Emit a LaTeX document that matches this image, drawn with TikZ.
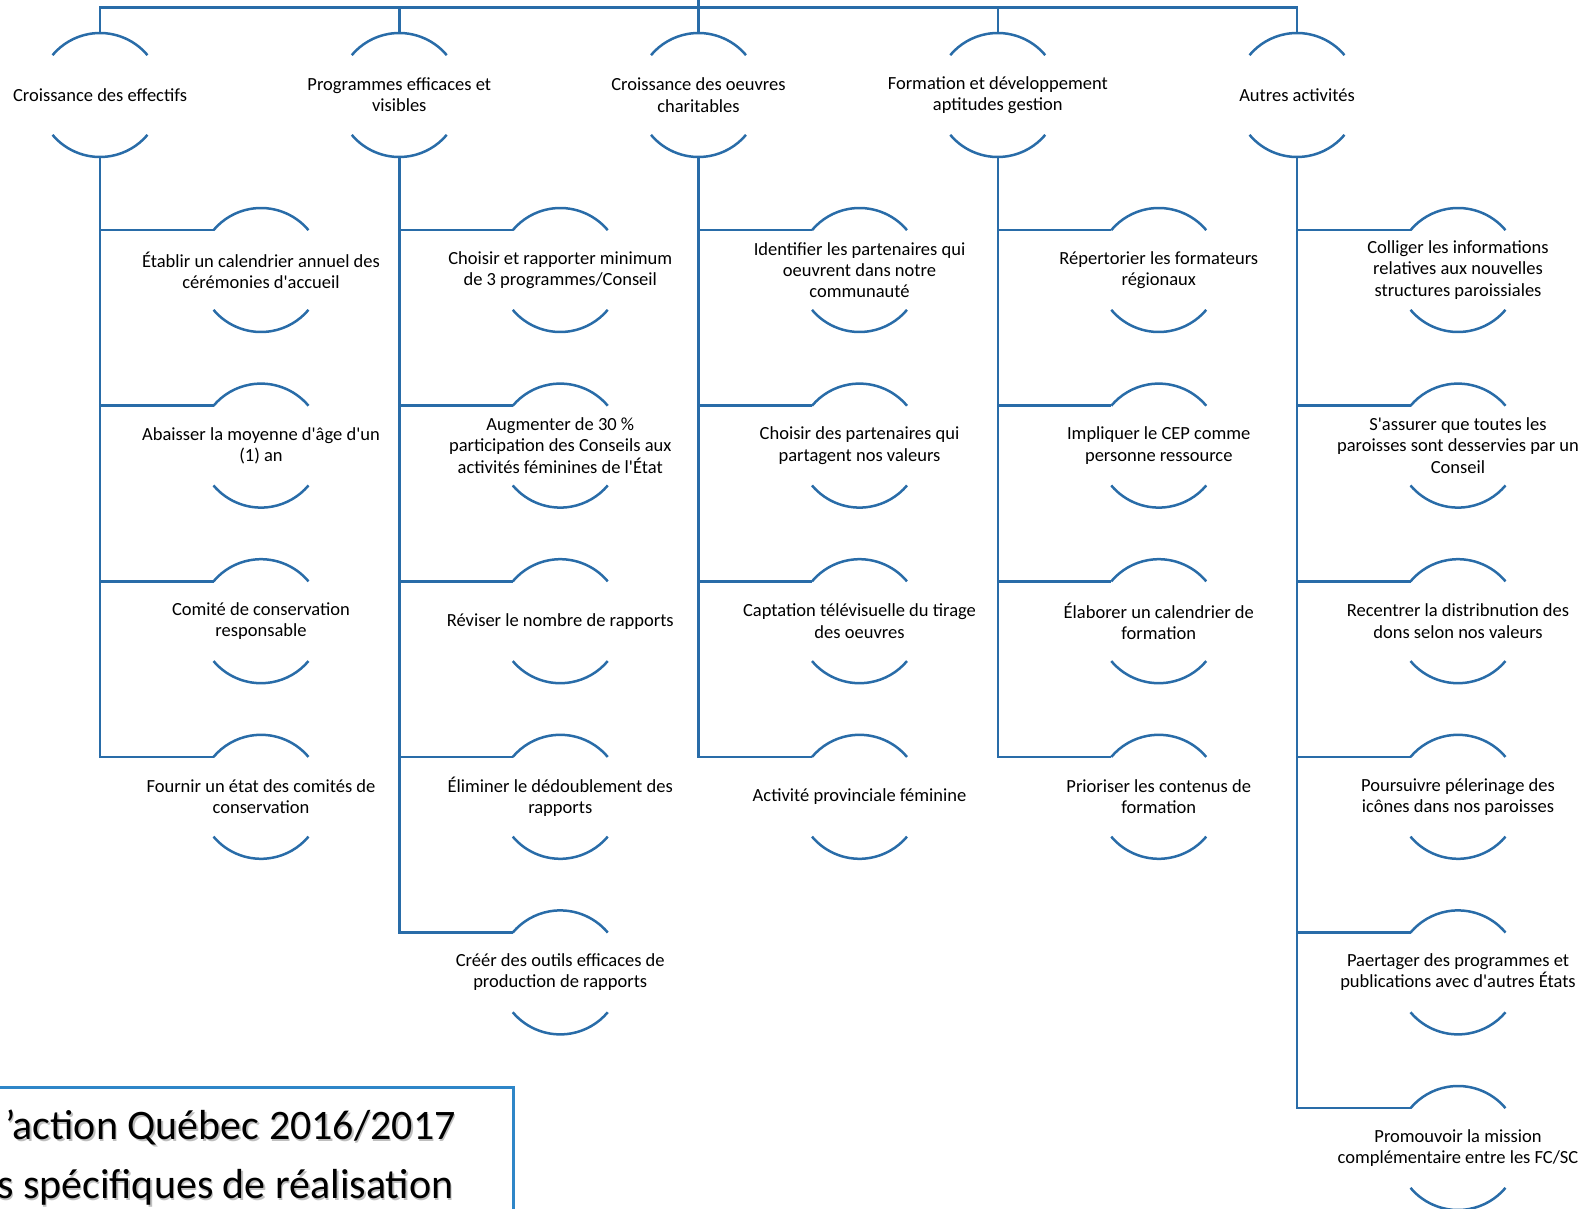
\documentclass[tikz,border=0pt]{standalone}
\usepackage{fontspec}
\setmainfont{Carlito}
\usepackage{tikz}
\usetikzlibrary{calc,positioning}
\definecolor{lineblue}{RGB}{41,108,168}
\definecolor{boxblue}{RGB}{46,134,200}
\newcommand\q{\textquotesingle}
\begin{document}
\begin{tikzpicture}[x=0.5pt,y=-0.5pt,
  obj/.style={align=center,inner sep=0pt,font=\fontsize{9.25}{10.65}\selectfont},
  link/.style={draw=lineblue,line width=1.25pt},
  arcline/.style={draw=lineblue,line width=1.25pt},
  title/.style={inner sep=0pt,anchor=base east,font=\fontsize{21}{25}\selectfont}]
\useasboundingbox (0,0) rectangle (1591,1209);
\clip (0,0) rectangle (1591,1209);

% root of the tree, above the page
\coordinate (root) at (698.5,7.5);
\coordinate (rootup) at (698.5,-20);

% main axes
\node[obj] (t1) at (100,95) {Croissance des effectifs};
\node[obj] (t2) at (399.25,95) {Programmes efficaces et\\visibles};
\node[obj] (t3) at (698.5,95) {Croissance des oeuvres\\charitables};
\node[obj] (t4) at (997.75,95) {Formation et développement\\aptitudes gestion};
\node[obj] (t5) at (1297,95) {Autres activités};

% Croissance des effectifs
\node[obj] (a1) at (261,270) {Établir un calendrier annuel des\\cérémonies d\q accueil};
\node[obj] (a2) at (261,445.6) {Abaisser la moyenne d\q âge d\q un\\(1) an};
\node[obj] (a3) at (261,621.2) {Comité de conservation\\responsable};
\node[obj] (a4) at (261,796.8) {Fournir un état des comités de\\conservation};

% Programmes efficaces et visibles
\node[obj] (b1) at (560.25,270) {Choisir et rapporter minimum\\de 3 programmes/Conseil};
\node[obj] (b2) at (560.25,445.6) {Augmenter de 30 \%\\participation des Conseils aux\\activités féminines de l\q État};
\node[obj] (b3) at (560.25,621.2) {Réviser le nombre de rapports};
\node[obj] (b4) at (560.25,796.8) {Éliminer le dédoublement des\\rapports};
\node[obj] (b5) at (560.25,972.4) {Créér des outils efficaces de\\production de rapports};

% Croissance des oeuvres charitables
\node[obj] (c1) at (859.5,270) {Identifier les partenaires qui\\oeuvrent dans notre\\communauté};
\node[obj] (c2) at (859.5,445.6) {Choisir des partenaires qui\\partagent nos valeurs};
\node[obj] (c3) at (859.5,621.2) {Captation télévisuelle du tirage\\des oeuvres};
\node[obj] (c4) at (859.5,796.8) {Activité provinciale féminine};

% Formation et developpement
\node[obj] (d1) at (1158.75,270) {Répertorier les formateurs\\régionaux};
\node[obj] (d2) at (1158.75,445.6) {Impliquer le CEP comme\\personne ressource};
\node[obj] (d3) at (1158.75,621.2) {Élaborer un calendrier de\\formation};
\node[obj] (d4) at (1158.75,796.8) {Prioriser les contenus de\\formation};

% Autres activites
\node[obj] (e1) at (1458,270) {Colliger les informations\\relatives aux nouvelles\\structures paroissiales};
\node[obj] (e2) at (1458,445.6) {S\q assurer que toutes les\\paroisses sont desservies par un\\Conseil};
\node[obj] (e3) at (1458,621.2) {Recentrer la distribnution des\\dons selon nos valeurs};
\node[obj] (e4) at (1458,796.8) {Poursuivre pélerinage des\\icônes dans nos paroisses};
\node[obj] (e5) at (1458,972.4) {Paertager des programmes et\\publications avec d\q autres États};
\node[obj] (e6) at (1458,1148) {Promouvoir la mission\\complémentaire entre les FC/SC};

% arcs round every node
\foreach \n in {t1,t2,t3,t4,t5,a1,a2,a3,a4,b1,b2,b3,b4,b5,c1,c2,c3,c4,d1,d2,d3,d4,e1,e2,e3,e4,e5,e6}{
  \draw[arcline] ([shift={(40:31pt)}]\n.center) arc[start angle=40,end angle=140,radius=31pt];
  \draw[arcline] ([shift={(220:31pt)}]\n.center) arc[start angle=220,end angle=320,radius=31pt];
}

% connectors to the root
\draw[link] ([yshift=31pt]t1.center) |- (root);
\draw[link] ([yshift=31pt]t2.center) |- (root);
\draw[link] ([yshift=31pt]t3.center) -- (rootup);
\draw[link] ([yshift=31pt]t4.center) |- (root);
\draw[link] ([yshift=31pt]t5.center) |- (root);

% connectors to the objectives
\foreach \p/\c in {t1/a1,t1/a2,t1/a3,t1/a4,t2/b1,t2/b2,t2/b3,t2/b4,t2/b5,t3/c1,t3/c2,t3/c3,t3/c4,t4/d1,t4/d2,t4/d3,t4/d4,t5/e1,t5/e2,t5/e3,t5/e4,t5/e5,t5/e6}
  \draw[link] ([yshift=-31pt]\p.center) |- ([shift={(140:31pt)}]\c.center);

% title box, cut by the page
\coordinate (bl) at (-20,1087);
\coordinate (br) at (513,1087);
\coordinate (bb) at (513,1240);
\draw[draw=boxblue,line width=1.5pt] (bl) -- (br) -- (bb);
\node[title,text=black!25] (s1) at (457.5,1141.5) {’action Québec 2016/2017};
\node[title,text=black!25] (s2) at (455.5,1200.5) {s spécifiques de réalisation};
\node[title] (l1) at (456,1139.5) {’action Québec 2016/2017};
\node[title] (l2) at (454,1198.5) {s spécifiques de réalisation};
\end{tikzpicture}
\end{document}
